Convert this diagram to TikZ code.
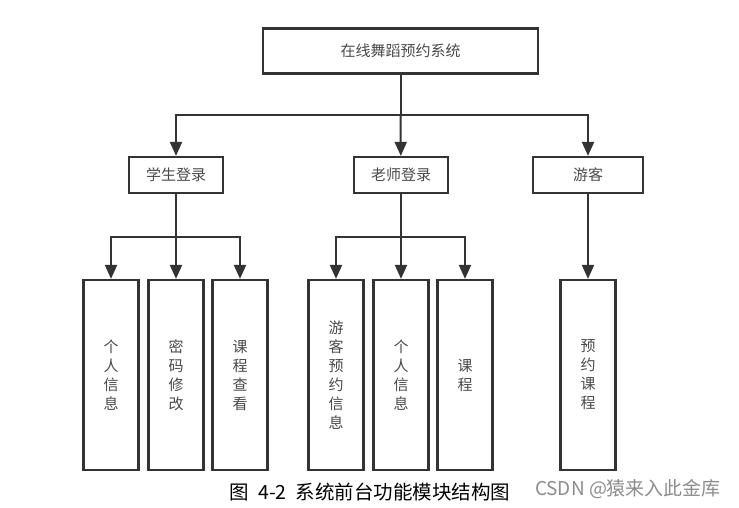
\documentclass[tikz,border=0pt]{standalone}
\usepackage{fontspec}
\setmainfont{Noto Sans CJK SC}
\usetikzlibrary{arrows.meta}
\definecolor{linegray}{HTML}{333333}
\definecolor{textgray}{HTML}{4A4A4A}
\begin{document}
\begin{tikzpicture}[x=1pt,y=-1pt,
  box/.style ={draw=linegray,line width=2.2pt,fill=white,text=textgray,inner sep=0pt,font=\fontsize{15}{19}\selectfont},
  tall/.style ={box,minimum width=55pt,minimum height=190pt,align=center},
  arr/.style ={draw=linegray,line width=2pt,-{Triangle[length=14pt,width=12pt]}},
  ln/.style ={draw=linegray,line width=2pt}]
\useasboundingbox (0,0) rectangle (739,508);

\node[box,minimum width=275pt,minimum height=45pt] (sys) at (400.5,51) {在线舞蹈预约系统};

%level 2
\node[box,minimum width=94pt,minimum height=36pt] (stu) at (176,175) {学生登录};
\node[box,minimum width=94pt,minimum height=36pt] (tea) at (401,175) {老师登录};
\node[box,minimum width=110pt,minimum height=36pt] (vis) at (588,175) {游客};

%level 3
\node[tall] (s1) at (111,375) {个\\人\\信\\息};
\node[tall] (s2) at (176,375) {密\\码\\修\\改};
\node[tall] (s3) at (240,375) {课\\程\\查\\看};
\node[tall] (t1) at (336,375) {游\\客\\预\\约\\信\\息};
\node[tall] (t2) at (401,375) {个\\人\\信\\息};
\node[tall] (t3) at (465,375) {课\\程};
\node[tall] (v1) at (588,375) {预\\约\\课\\程};

\coordinate (j0) at (400.5,115);
\coordinate (js) at (176,237);
\coordinate (jt) at (401,237);

\path[ln] (sys) -- (j0);
\path[arr] (j0) -| (stu);
\path[arr] (j0) -- (tea);
\path[arr] (j0) -| (vis);

\path[ln] (stu) -- (js);
\path[arr] (js) -| (s1);
\path[arr] (js) -- (s2);
\path[arr] (js) -| (s3);

\path[ln] (tea) -- (jt);
\path[arr] (jt) -| (t1);
\path[arr] (jt) -- (t2);
\path[arr] (jt) -| (t3);

\path[arr] (vis) -- (v1);

%caption
\node[font=\fontsize{19.5}{22}\selectfont] (cap) at (370,492) {图\hspace{9pt}4-2\hspace{9pt}系统前台功能模块结构图};
\node[text=black!45,font=\fontsize{19}{21}\selectfont] (mark) at (628,489) {CSDN @猿来入此金库};
\end{tikzpicture}
\end{document}
